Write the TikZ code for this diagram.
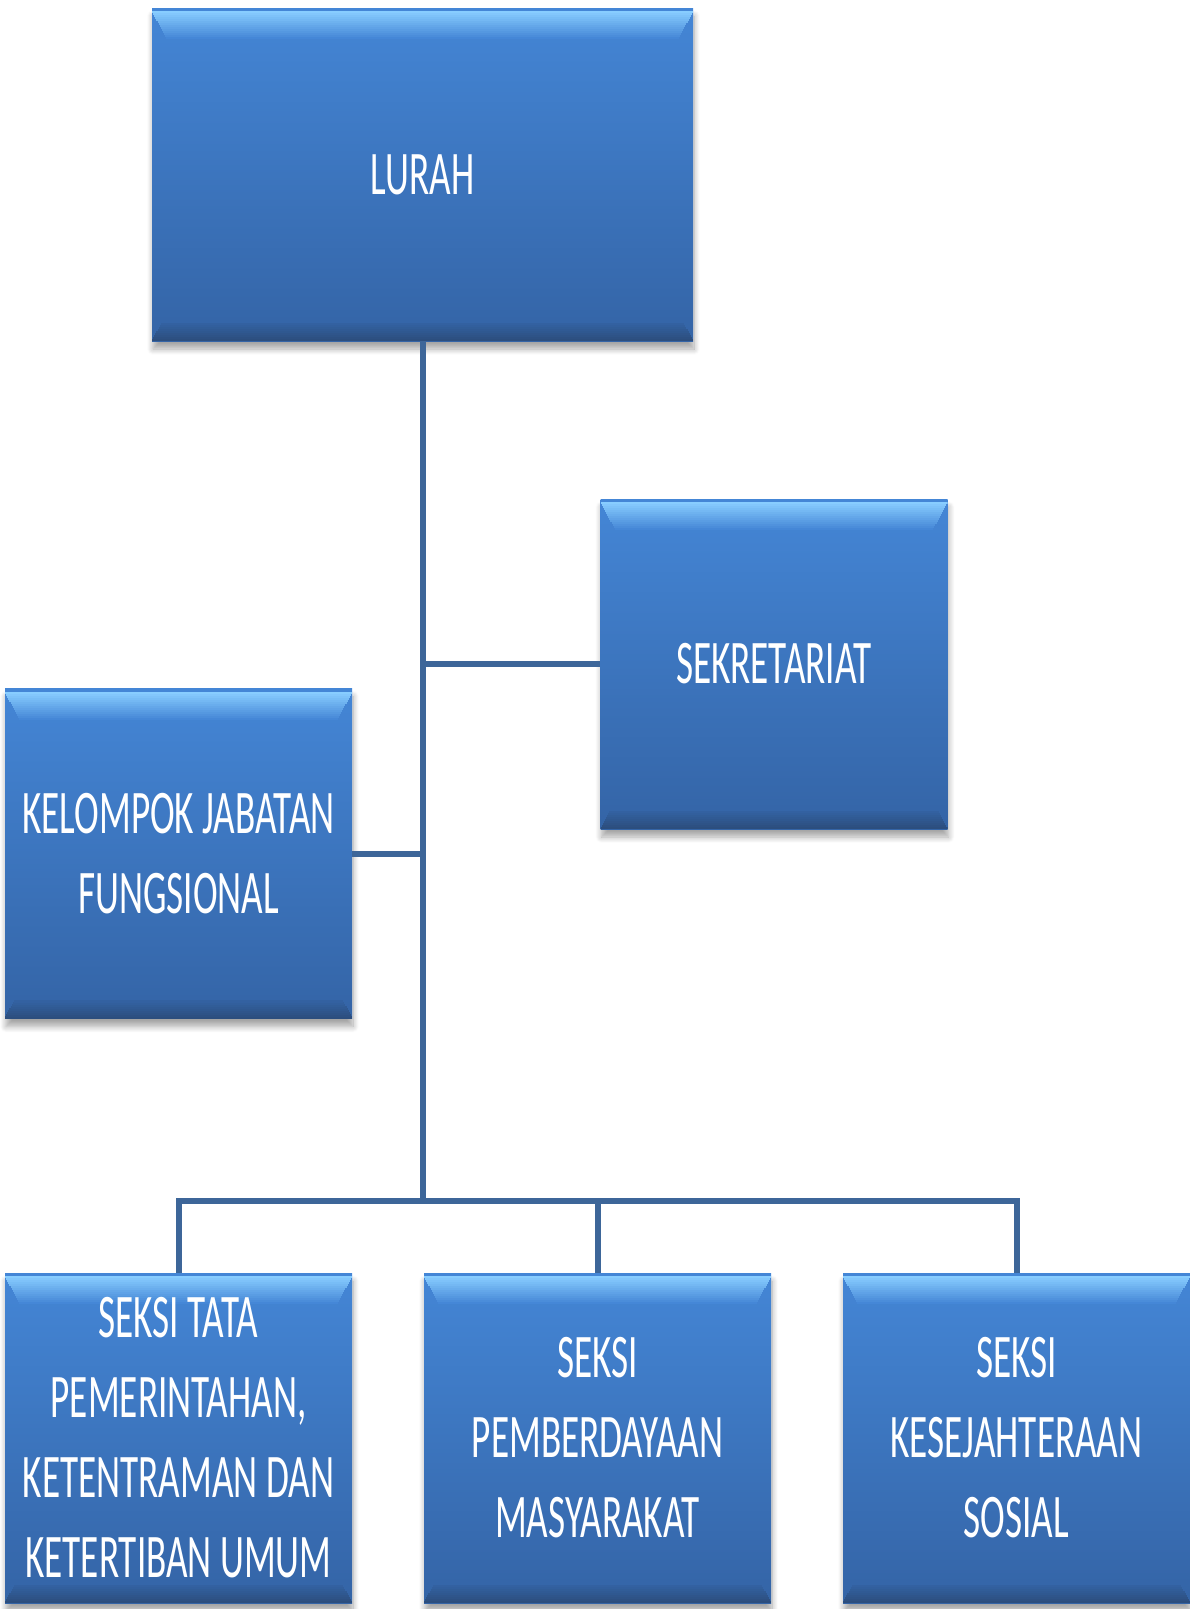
\documentclass[tikz,border=0pt]{standalone}
\usepackage{fontspec}
\setmainfont{Carlito}[FakeStretch=0.6]
\usetikzlibrary{shadows.blur}
\definecolor{boxtop}{RGB}{68,134,214}
\definecolor{boxbot}{RGB}{52,100,166}
\definecolor{bevel}{RGB}{136,205,255}
\definecolor{bevdark}{RGB}{44,78,126}
\definecolor{linkcol}{RGB}{61,102,153}
\begin{document}
\begin{tikzpicture}[x=1pt,y=1pt,
    orgbox/.style={rectangle, inner sep=0pt, align=center, text=white,
        top color=boxtop, bottom color=boxbot,
        font=\fontsize{62}{80}\selectfont,
        blur shadow={shadow blur steps=10, shadow xshift=1pt, shadow yshift=-8pt,
            shadow opacity=35, shadow blur radius=6pt},
        path picture={
            % top bevel, fading downwards
            \foreach \i [evaluate=\i as \pct using int(100-\i*7.5)] in {0,...,13}
                \fill[bevel!\pct!boxtop]
                    ([xshift=\i*1.1pt, yshift=-3pt-\i*2pt]path picture bounding box.north west)
                    rectangle ([xshift=-\i*1.1pt, yshift=-5.2pt-\i*2pt]path picture bounding box.north east);
            % bottom bevel
            \foreach \i [evaluate=\i as \pct using int(100-\i*11)] in {0,...,8}
                \fill[bevdark!\pct!boxbot]
                    ([xshift=\i*1.1pt, yshift=\i*2pt]path picture bounding box.south west)
                    rectangle ([xshift=-\i*1.1pt, yshift=2.2pt+\i*2pt]path picture bounding box.south east);
        }},
    smallbox/.style={orgbox, minimum width=347pt, minimum height=330pt},
    link/.style={draw=linkcol, line width=6pt}]

    \useasboundingbox (0,0) rectangle (1190,-1609);

    \node[orgbox, minimum width=541pt, minimum height=333pt] (lurah) at (422.5,-174.5) {LURAH};
    \node[smallbox] (sekretariat) at (774,-664) {SEKRETARIAT};
    \node[smallbox] (kelompok) at (178.5,-853.5) {KELOMPOK JABATAN\\FUNGSIONAL};
    \node[smallbox] (seksitata) at (178.5,-1438) {SEKSI TATA\\PEMERINTAHAN,\\KETENTRAMAN DAN\\KETERTIBAN UMUM};
    \node[smallbox] (seksimas) at (597.5,-1438) {SEKSI\\PEMBERDAYAAN\\MASYARAKAT};
    \node[smallbox] (seksisos) at (1016.5,-1438) {SEKSI\\KESEJAHTERAAN\\SOSIAL};

    \coordinate (bar) at (lurah.south |- 0,-1201);

    \draw[link] (lurah.south) -- (bar);
    \draw[link] (lurah.south |- sekretariat.west) -- (sekretariat.west);
    \draw[link] (kelompok.east) -- (lurah.south |- kelompok.east);
    \draw[link] (seksitata.north) -- (seksitata.north |- bar) -- (seksisos.north |- bar) -- (seksisos.north);
    \draw[link] (seksimas.north) -- (seksimas.north |- bar);

\end{tikzpicture}
\end{document}
